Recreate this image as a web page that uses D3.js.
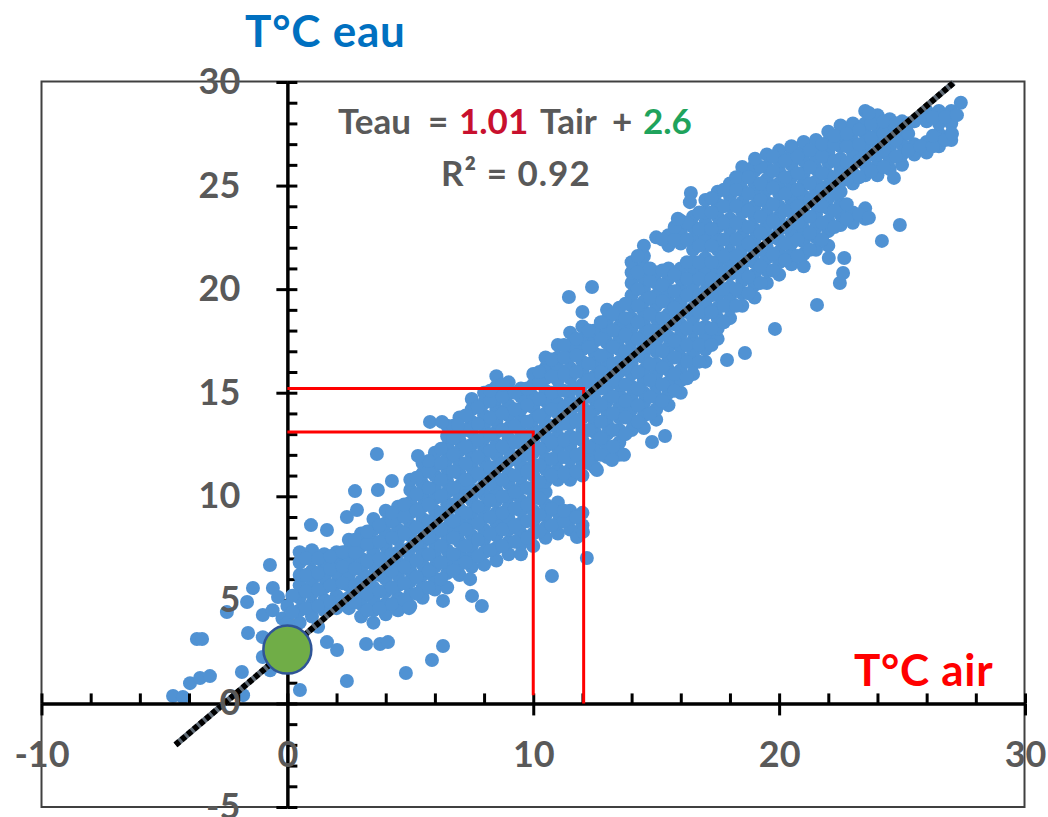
<!DOCTYPE html>
<html>
<head>
<meta charset="utf-8">
<script src="https://d3js.org/d3.v7.min.js"></script>
<style>
    body {
        margin: 0;
        background: white;
        font-family: Lato, "Open Sans", sans-serif;
    }

    svg {
        display: block;
    }

    .axis path,
    .axis line {
        stroke: black;
        stroke-width: 3px;
    }

    .axis text {
        font-family: Lato, "Open Sans", sans-serif;
        font-size: 36px;
        font-weight: 700;
        fill: #595959;
    }
</style>
</head>

<body>
<svg id="Chart"></svg>

<script>
    // Data
    // the dense band, column by column: air temperature and the water temperatures seen there
    const airColumns = [0.5, 1, 1.5, 2, 2.5, 3, 3.5, 4, 4.5, 5, 5.5, 6, 6.5, 7, 7.5, 8, 8.5, 9, 9.5, 10,
        10.5, 11, 11.5, 12, 12.5, 13, 13.5, 14, 14.5, 15, 15.5, 16, 16.5, 17, 17.5, 18, 18.5, 19, 19.5, 20,
        20.5, 21, 21.5, 22, 22.5, 23, 23.5, 24, 24.5, 25, 25.5, 26, 26.5, 27];
    const waterColumns = [
        [3.9, 4.5, 5.1, 5.7, 6.2, 6.8, 7.3],
        [4.2, 4.8, 5.3, 5.9, 6.4, 7, 7.4],
        [4.5, 5, 5.6, 6.1, 6.7, 7.2],
        [4.6, 5.2, 5.8, 6.3, 6.9, 7.3],
        [4.6, 5.1, 5.7, 6.2, 6.8, 7.4, 7.9],
        [4.2, 4.8, 5.4, 5.9, 6.5, 7, 7.6, 8.2],
        [3.9, 4.5, 5, 5.6, 6.2, 6.7, 7.3, 7.8, 8.4, 8.9],
        [4.3, 4.8, 5.4, 6, 6.5, 7.1, 7.6, 8.2, 8.7, 9.3],
        [4.5, 5.1, 5.7, 6.2, 6.8, 7.3, 7.9, 8.4, 9, 9.5],
        [4.7, 5.3, 5.9, 6.4, 7, 7.5, 8.1, 8.6, 9.2, 9.7, 10.3, 10.8],
        [5.1, 5.6, 6.2, 6.7, 7.3, 7.8, 8.4, 8.9, 9.5, 10, 10.6, 11.1, 11.6],
        [5.5, 6, 6.6, 7.1, 7.7, 8.2, 8.8, 9.3, 9.9, 10.4, 11, 11.5, 12.1],
        [5.6, 6.3, 6.9, 7.4, 8, 8.5, 9.1, 9.6, 10.2, 10.7, 11.3, 11.8, 12.4, 12.9, 13.4],
        [6.2, 6.7, 7.2, 7.8, 8.3, 8.9, 9.4, 10, 10.5, 11.1, 11.6, 12.2, 12.7, 13.3, 13.8],
        [6.6, 7.1, 7.6, 8.1, 8.7, 9.2, 9.8, 10.3, 10.9, 11.4, 12, 12.5, 13.1, 13.6, 14.2, 14.7],
        [6.7, 7.3, 7.9, 8.4, 9, 9.5, 10.1, 10.6, 11.2, 11.7, 12.3, 12.8, 13.4, 13.9, 14.5, 15],
        [6.9, 7.5, 8.1, 8.7, 9.2, 9.8, 10.3, 10.9, 11.4, 12, 12.5, 13.1, 13.6, 14.2, 14.7, 15.3, 15.8],
        [7.2, 7.8, 8.4, 8.9, 9.5, 10, 10.6, 11.1, 11.7, 12.2, 12.8, 13.3, 13.9, 14.4, 15, 15.5],
        [7.2, 7.7, 8.2, 8.7, 9.3, 9.8, 10.4, 10.9, 11.5, 12, 12.6, 13.1, 13.7, 14.2, 14.8, 15.2],
        [7.6, 8.2, 8.8, 9.3, 9.9, 10.4, 11, 11.5, 12.1, 12.6, 13.2, 13.7, 14.3, 14.8, 15.4, 15.9],
        [8, 8.5, 9.1, 9.6, 10.2, 10.7, 11.3, 11.8, 12.4, 12.9, 13.5, 14, 14.6, 15.1, 15.7, 16.2, 16.7],
        [8.2, 8.7, 9.2, 9.7, 10.8, 11.3, 11.8, 12.3, 12.9, 13.4, 14, 14.5, 15.1, 15.6, 16.2, 16.7, 17.3],
        [8.4, 8.9, 9.3, 10.8, 11.3, 11.8, 12.4, 12.9, 13.5, 14, 14.6, 15.1, 15.7, 16.2, 16.8, 17.3, 17.9],
        [8.6, 9.2, 11, 11.6, 12.1, 12.7, 13.2, 13.8, 14.3, 14.9, 15.4, 16, 16.5, 17.1, 17.6, 18.2, 18.9],
        [11.4, 12, 12.5, 13.1, 13.6, 14.2, 14.7, 15.3, 15.8, 16.4, 16.9, 17.5, 18],
        [11.9, 12.4, 13, 13.5, 14.1, 14.6, 15.2, 15.7, 16.3, 16.8, 17.4, 17.9, 18.5, 19],
        [12, 12.6, 13.2, 13.8, 14.3, 14.9, 15.4, 16, 16.5, 17.1, 17.6, 18.2, 18.7, 19.1],
        [13.2, 13.7, 14.2, 14.8, 15.3, 15.9, 16.4, 17, 17.5, 18.1, 18.6, 19.2, 19.7, 20.3, 20.8, 21.3],
        [13.3, 13.9, 14.5, 15, 15.6, 16.1, 16.7, 17.2, 17.8, 18.3, 18.9, 19.4, 20, 20.5, 21.1, 21.6, 22.1],
        [13.7, 14.2, 14.8, 15.3, 15.9, 16.4, 17, 17.5, 18.1, 18.6, 19.2, 19.7, 20.3, 20.8, 22.5],
        [14.4, 15, 15.5, 16.1, 16.6, 17.2, 17.7, 18.3, 18.8, 19.4, 19.9, 20.5, 21, 22.1, 22.6],
        [15, 15.6, 16.1, 16.7, 17.2, 17.8, 18.3, 18.9, 19.4, 20, 20.5, 21, 22.2, 22.8, 23.3],
        [15.9, 16.4, 16.9, 17.5, 18, 18.6, 19.1, 19.7, 20.2, 20.8, 21.3, 21.9, 22.4, 23, 23.5],
        [16.5, 17.1, 17.7, 18.2, 18.8, 19.3, 19.9, 20.4, 21, 21.5, 22.1, 22.6, 23.2, 23.7, 24.3],
        [17.6, 18.1, 18.6, 19.1, 19.7, 20.2, 20.8, 21.3, 21.9, 22.4, 23, 23.5, 24.1, 24.7],
        [18.6, 19.1, 19.6, 20.1, 20.7, 21.2, 21.8, 22.3, 22.9, 23.4, 24, 24.5, 25.1],
        [19.2, 19.8, 20.4, 20.9, 21.5, 22, 22.6, 23.1, 23.7, 24.2, 24.8, 25.3, 25.9],
        [19.6, 20.2, 20.7, 21.3, 21.8, 22.4, 22.9, 23.5, 24, 24.6, 25.1, 25.7, 26],
        [20.3, 20.9, 21.5, 22, 22.6, 23.1, 23.7, 24.2, 24.8, 25.3, 25.9, 26.5],
        [20.7, 21.3, 21.8, 22.4, 22.9, 23.5, 24, 24.6, 25.1, 25.7, 26.2, 26.7],
        [21.2, 21.7, 22.2, 22.7, 23.2, 23.8, 24.3, 24.9, 25.4, 26, 26.5, 26.9],
        [21.1, 21.7, 22.3, 22.9, 23.4, 24, 24.5, 25.1, 25.6, 26.2, 26.7, 27.1],
        [21.9, 22.5, 23, 23.6, 24.1, 24.7, 25.2, 25.8, 26.3, 26.8, 27.2],
        [22.1, 22.8, 23.3, 23.9, 24.4, 25, 25.5, 26.1, 26.6, 27.1, 27.6],
        [23.1, 23.6, 24.1, 24.7, 25.2, 25.8, 26.3, 26.9, 27.4, 27.9],
        [23.2, 23.7, 25.1, 25.6, 26.1, 26.6, 27.1, 27.6, 28],
        [23.4, 23.9, 25.5, 26, 26.5, 27, 27.5, 28, 28.6],
        [25.5, 26, 26.5, 27, 27.5, 28, 28.4],
        [25.8, 26.3, 26.8, 27.3, 27.8, 28.2],
        [26, 26.5, 27, 27.5, 28.1],
        [26.5, 27, 28.1],
        [26.6, 27.1, 28.1, 28.6],
        [26.9, 27.5, 28, 28.6],
        [27.2, 27.5, 28, 28.6]
    ];

    // more points of the band, between those columns
    const airBetween = [0.75, 1.25, 1.75, 2.25, 2.75, 3.25, 3.75, 4.25, 4.75, 5.25, 5.75, 6.25, 6.75, 7.25, 7.75,
        8.25, 8.75, 9.25, 9.75, 10.25, 10.75, 11.25, 11.75, 12.25, 12.75, 13.25, 13.75, 14.25, 14.75, 15.25,
        15.75, 16.25, 16.75, 17.25, 17.75, 18.25, 18.75, 19.25, 19.75, 20.25, 20.75, 21.25, 21.75, 22.25,
        22.75, 23.25, 23.75, 24.25, 24.75, 25.25, 25.75, 26.25, 26.75];
    const waterBetween = [
        [4.6, 5.4, 6.2, 7],
        [4.7, 5.5, 6.3, 7],
        [4.9, 5.7, 6.5, 7.1],
        [5, 5.8, 6.6, 7.3],
        [4.9, 5.7, 6.5, 7.3, 7.9],
        [4.5, 5.3, 6.1, 6.9, 7.7, 8.3],
        [4.6, 5.4, 6.2, 7, 7.8, 8.6],
        [4.8, 5.6, 6.4, 7.2, 8, 8.8, 9.2],
        [5, 5.8, 6.6, 7.4, 8.2, 9, 9.6],
        [5.3, 6.1, 6.9, 7.7, 8.5, 9.3, 10.1, 10.9],
        [5.6, 6.4, 7.2, 8, 8.8, 9.6, 10.4, 11.2, 11.7],
        [6, 6.8, 7.6, 8.4, 9.2, 10, 10.8, 11.6, 12.3],
        [6.4, 7.2, 8, 8.8, 9.6, 10.4, 11.2, 12, 12.8, 13.4],
        [6.8, 7.6, 8.4, 9.2, 10, 10.8, 11.6, 12.4, 13.2, 13.9],
        [7.1, 7.9, 8.7, 9.5, 10.3, 11.1, 11.9, 12.7, 13.5, 14.3],
        [7.4, 8.2, 9, 9.8, 10.6, 11.4, 12.2, 13, 13.8, 14.6, 15.1],
        [7.6, 8.4, 9.2, 10, 10.8, 11.6, 12.4, 13.2, 14, 14.8, 15.4],
        [7.8, 8.6, 9.4, 10.2, 11, 11.8, 12.6, 13.4, 14.2, 15],
        [8, 8.8, 9.6, 10.4, 11.2, 12, 12.8, 13.6, 14.4, 15.2],
        [8.3, 9.1, 9.9, 10.7, 11.5, 12.3, 13.1, 13.9, 14.7, 15.5, 16],
        [8.6, 9.4, 11, 11.8, 12.6, 13.4, 14.2, 15, 15.8, 16.6],
        [8.8, 9.3, 11.1, 11.9, 12.7, 13.5, 14.3, 15.1, 15.9, 16.7, 17.3],
        [9, 11.2, 12, 12.8, 13.6, 14.4, 15.2, 16, 16.8, 17.6],
        [11.6, 12.4, 13.2, 14, 14.8, 15.6, 16.4, 17.2, 18],
        [12, 12.8, 13.6, 14.4, 15.2, 16, 16.8, 17.6, 18.4],
        [12.4, 13.2, 14, 14.8, 15.6, 16.4, 17.2, 18, 18.8],
        [13, 13.8, 14.6, 15.4, 16.2, 17, 17.8, 18.6, 19.3],
        [13.6, 14.4, 15.2, 16, 16.8, 17.6, 18.4, 19.2, 20, 20.8, 21.6],
        [14, 14.8, 15.6, 16.4, 17.2, 18, 18.8, 19.6, 20.4, 21],
        [14.6, 15.4, 16.2, 17, 17.8, 18.6, 19.4, 20.2, 20.9, 22.4],
        [15.1, 15.9, 16.7, 17.5, 18.3, 19.1, 19.9, 20.7, 22.4, 23],
        [15.7, 16.5, 17.3, 18.1, 18.9, 19.7, 20.5, 21.3, 22.4, 23.2],
        [16.5, 17.3, 18.1, 18.9, 19.7, 20.5, 21.3, 22.1, 22.9, 23.7],
        [17.3, 18.1, 18.9, 19.7, 20.5, 21.3, 22.1, 22.9, 23.7, 24.4],
        [18.4, 19.2, 20, 20.8, 21.6, 22.4, 23.2, 24, 24.8],
        [19.2, 20, 20.8, 21.6, 22.4, 23.2, 24, 24.8, 25.4],
        [19.8, 20.6, 21.4, 22.2, 23, 23.8, 24.6, 25.4],
        [20.3, 21.1, 21.9, 22.7, 23.5, 24.3, 25.1, 25.9],
        [20.9, 21.7, 22.5, 23.3, 24.1, 24.9, 25.7, 26.4],
        [21.4, 22.2, 23, 23.8, 24.6, 25.4, 26.2],
        [21.6, 22.4, 23.2, 24, 24.8, 25.6, 26.4],
        [21.9, 22.7, 23.5, 24.3, 25.1, 25.9, 26.7],
        [22.4, 23.2, 24, 24.8, 25.6, 26.4, 27],
        [23, 23.8, 24.6, 25.4, 26.2, 27, 27.4],
        [23.4, 24.1, 25.3, 26.1, 26.9, 27.5],
        [23.6, 25.4, 26.2, 27, 27.7],
        [25.7, 26.5, 27.3, 28],
        [25.9, 26.7, 27.5, 28.1],
        [26.4, 27.2, 28],
        [26.7, 27.5, 28],
        [26.9, 28.3],
        [26.9, 27.4, 28.3],
        [27.2, 28.3]
    ];

    // the points standing apart from the band
    const looseAir = [-4.65, -4.25, -3.96, -3.55, -3.15, -3.68, -3.47, -2.46, -1.64, -1.4, -0.71, -0.59, -0.38,
        -1.6, -1, -1.85, 0.51, -1.8, 2.42, 4.82, 5.88, 6.33, 1.61, 2.02, 3.2, 3.77, 4.09, 0.96, 1.61, 2.75,
        2.42, 2.83, 3.64, 5.31, 4.25, 3.68, 5.8, 6.29, 6.94, 7.43, 7.51, 7.91, 6.33, 4.95, 10.76, 12.18, 11.78,
        12.02, 12.59, 14.83, 15.36, 13.69, 13.2, 24.91, 24.18, 21.54, 19.83, 18.61, 17.88, 22.47, 22.6, 22.65,
        22.02, 12.39, 11.45, 19.02, 16.41, 16.37, 15.88, 27.39, 27.23, 27.03, 24.67, 23.65, 23.65,
        -1, -0.6, -0.2, 0, 0, 0.2, -1, 1.25, -0.7, 0.2];
    const looseWater = [0.36, 0.31, 0.98, 1.23, 1.32, 3.11, 3.11, 4.41, 4.9, 5.57, 6.68, 5.57, 5.14,
        3.4, 2.24, 1.52, 0.65, 0.4, 1.08, 1.47, 2.1, 2.77, 2.96, 2.58, 2.87, 2.87, 2.96, 8.61, 8.37, 10.25,
        9, 9.34, 12.04, 11.95, 10.74, 10.3, 13.59, 13.59, 13.44, 6, 5.19, 4.7, 4.95, 4.6, 6.15, 7.02, 8.03,
        8.28, 11.27, 12.62, 12.91, 12, 11.75, 23.1, 22.33, 19.24, 18.08, 16.92, 16.58, 20.3, 20.78, 21.5,
        21.5, 20.1, 19.62, 26.3, 24.64, 24.2, 23.4, 29, 28.4, 27.5, 25.37, 23.45, 28.5,
        4.27, 4.5, 4.1, 4.7, 3.9, 4.4, 3.2, 3.7, 1.6, 5.2];

    // regression: Teau = 1.01 Tair + 2.6, drawn between these two air temperatures
    const trendAir = [-4.55, 27.1];
    const trendWater = [-2.0, 29.97];
    const interceptPoint = { air: 0, water: 2.6 };

    // the two red reading guides
    const guideAir = [12.05, 10];
    const guideWater = [15.2, 13.1];
    const guideFloor = [0, 0.4];

    // ticks
    const xLabelTicks = [-10, 0, 10, 20, 30];
    const xMinorTicks = d3.range(-10, 31, 2);
    const yLabelTicks = [-5, 0, 5, 10, 15, 20, 25, 30];
    const yMinorTicks = d3.range(-5, 31, 1);

    // Config
    function getConfig() {
        let width = 1048;
        let height = 817;
        let left = 41.5;
        let right = 1025;
        let top = 82;
        let bottom = 807;

        let container = d3.select("#Chart")
            .attr("width", width)
            .attr("height", height);

        return { width, height, left, right, top, bottom, container };
    }

    // Scales
    function getScales(config) {
        let xScale = d3.scaleLinear()
            .domain([-10, 30])
            .range([config.left, config.right]);

        let yScale = d3.scaleLinear()
            .domain([-5, 30])
            .range([config.bottom, config.top]);

        return { xScale, yScale };
    }

    // the outer box
    function drawFrame(config) {
        config.container.append("rect")
            .attr("x", config.left)
            .attr("y", config.top - 0.5)
            .attr("width", config.right - config.left - 0.5)
            .attr("height", config.bottom - config.top + 0.5)
            .attr("fill", "white")
            .attr("stroke", "#404040")
            .attr("stroke-width", 2);
    }

    // y axis goes under the points
    function drawYAxis(scales, config) {
        let { xScale, yScale } = scales;

        let minor = d3.axisRight(yScale)
            .tickValues(yMinorTicks)
            .tickSize(10)
            .tickSizeOuter(0)
            .tickFormat("");

        config.container.append("g")
            .attr("class", "axis")
            .attr("transform", `translate(${xScale(0)}, 0)`)
            .call(minor);

        let major = d3.axisLeft(yScale)
            .tickValues(yLabelTicks)
            .tickSize(11)
            .tickSizeOuter(0)
            .tickFormat("");

        config.container.append("g")
            .attr("class", "axis")
            .attr("transform", `translate(${xScale(0)}, 0)`)
            .call(major);
    }

    function drawPoints(scales, config) {
        let { xScale, yScale } = scales;
        let points = [];

        airColumns.forEach((air, i) => {
            waterColumns[i].forEach(water => points.push({ air, water }));
        });
        airBetween.forEach((air, i) => {
            waterBetween[i].forEach(water => points.push({ air, water }));
        });
        looseAir.forEach((air, i) => points.push({ air, water: looseWater[i] }));

        config.container.append("g")
            .selectAll("circle")
            .data(points)
            .enter()
            .append("circle")
            .attr("cx", d => xScale(d.air))
            .attr("cy", d => yScale(d.water))
            .attr("r", 7)
            .attr("fill", "#5092d3");
    }

    function drawXAxis(scales, config) {
        let { xScale, yScale } = scales;

        let minor = d3.axisTop(xScale)
            .tickValues(xMinorTicks)
            .tickSize(10)
            .tickSizeOuter(0)
            .tickFormat("");

        config.container.append("g")
            .attr("class", "axis")
            .attr("transform", `translate(0, ${yScale(0)})`)
            .call(minor);

        let major = d3.axisBottom(xScale)
            .tickValues([-10, 10, 20, 30])
            .tickSize(12)
            .tickSizeOuter(0)
            .tickFormat("");

        config.container.append("g")
            .attr("class", "axis")
            .attr("transform", `translate(0, ${yScale(0)})`)
            .call(major);
    }

    function drawGuides(scales, config) {
        let { xScale, yScale } = scales;

        let guide = d3.line()
            .x(d => xScale(d[0]))
            .y(d => yScale(d[1]));

        guideAir.forEach((air, i) => {
            config.container.append("path")
                .attr("d", guide([[0, guideWater[i]], [air, guideWater[i]], [air, guideFloor[i]]]))
                .attr("fill", "none")
                .attr("stroke", "#ff0000")
                .attr("stroke-width", 3);
        });
    }

    function drawTrend(scales, config) {
        let { xScale, yScale } = scales;
        let x1 = xScale(trendAir[0]), x2 = xScale(trendAir[1]);
        let y1 = yScale(trendWater[0]), y2 = yScale(trendWater[1]);

        config.container.append("line")
            .attr("x1", x1).attr("y1", y1)
            .attr("x2", x2).attr("y2", y2)
            .attr("stroke", "#5f6a75")
            .attr("stroke-width", 6);

        config.container.append("line")
            .attr("x1", x1).attr("y1", y1)
            .attr("x2", x2).attr("y2", y2)
            .attr("stroke", "black")
            .attr("stroke-width", 6)
            .attr("stroke-dasharray", "5 3");

        config.container.append("circle")
            .attr("cx", xScale(interceptPoint.air))
            .attr("cy", yScale(interceptPoint.water))
            .attr("r", 24)
            .attr("fill", "#70ad47")
            .attr("stroke", "#2f5597")
            .attr("stroke-width", 2.5);
    }

    // labels sit on top of everything else
    function drawTickLabels(scales, config) {
        let { xScale, yScale } = scales;

        let labelsY = d3.axisLeft(yScale)
            .tickValues(yLabelTicks)
            .tickSize(0)
            .tickPadding(47)
            .tickFormat(d => String(d));

        let gy = config.container.append("g")
            .attr("class", "axis")
            .attr("transform", `translate(${xScale(0)}, 0)`)
            .call(labelsY);
        gy.select(".domain").remove();
        gy.selectAll("line").remove();

        let labelsX = d3.axisBottom(xScale)
            .tickValues(xLabelTicks)
            .tickSize(0)
            .tickPadding(38)
            .tickFormat(d => String(d));

        let gx = config.container.append("g")
            .attr("class", "axis")
            .attr("transform", `translate(0, ${yScale(0)})`)
            .call(labelsX);
        gx.select(".domain").remove();
        gx.selectAll("line").remove();
    }

    function drawTexts(config) {
        let svg = config.container;

        svg.append("text")
            .attr("x", 245)
            .attr("y", 47)
            .attr("font-size", 44)
            .attr("font-weight", 700)
            .attr("letter-spacing", 0.8)
            .attr("fill", "#0070c0")
            .text("T°C eau");

        svg.append("text")
            .attr("x", 854)
            .attr("y", 686)
            .attr("font-size", 44)
            .attr("font-weight", 700)
            .attr("letter-spacing", 0.7)
            .attr("fill", "#ff0000")
            .text("T°C air");

        let equation = svg.append("text")
            .attr("y", 134)
            .attr("font-size", 35)
            .attr("font-weight", 700)
            .attr("fill", "#595959");
        equation.append("tspan").attr("x", 338).text("Teau");
        equation.append("tspan").attr("x", 428).text("=");
        equation.append("tspan").attr("x", 459).attr("fill", "#c8102e").text("1.01");
        equation.append("tspan").attr("x", 540).text("Tair");
        equation.append("tspan").attr("x", 612).text("+");
        equation.append("tspan").attr("x", 643).attr("fill", "#1fa35c").text("2.6");

        svg.append("text")
            .attr("x", 441)
            .attr("y", 186)
            .attr("font-size", 35)
            .attr("font-weight", 700)
            .attr("letter-spacing", 1)
            .attr("fill", "#595959")
            .text("R² = 0.92");
    }

    function showChart() {
        let config = getConfig();
        let scales = getScales(config);
        drawFrame(config);
        drawYAxis(scales, config);
        drawPoints(scales, config);
        drawXAxis(scales, config);
        drawGuides(scales, config);
        drawTrend(scales, config);
        drawTickLabels(scales, config);
        drawTexts(config);
    }

    showChart();
</script>
</body>
</html>
